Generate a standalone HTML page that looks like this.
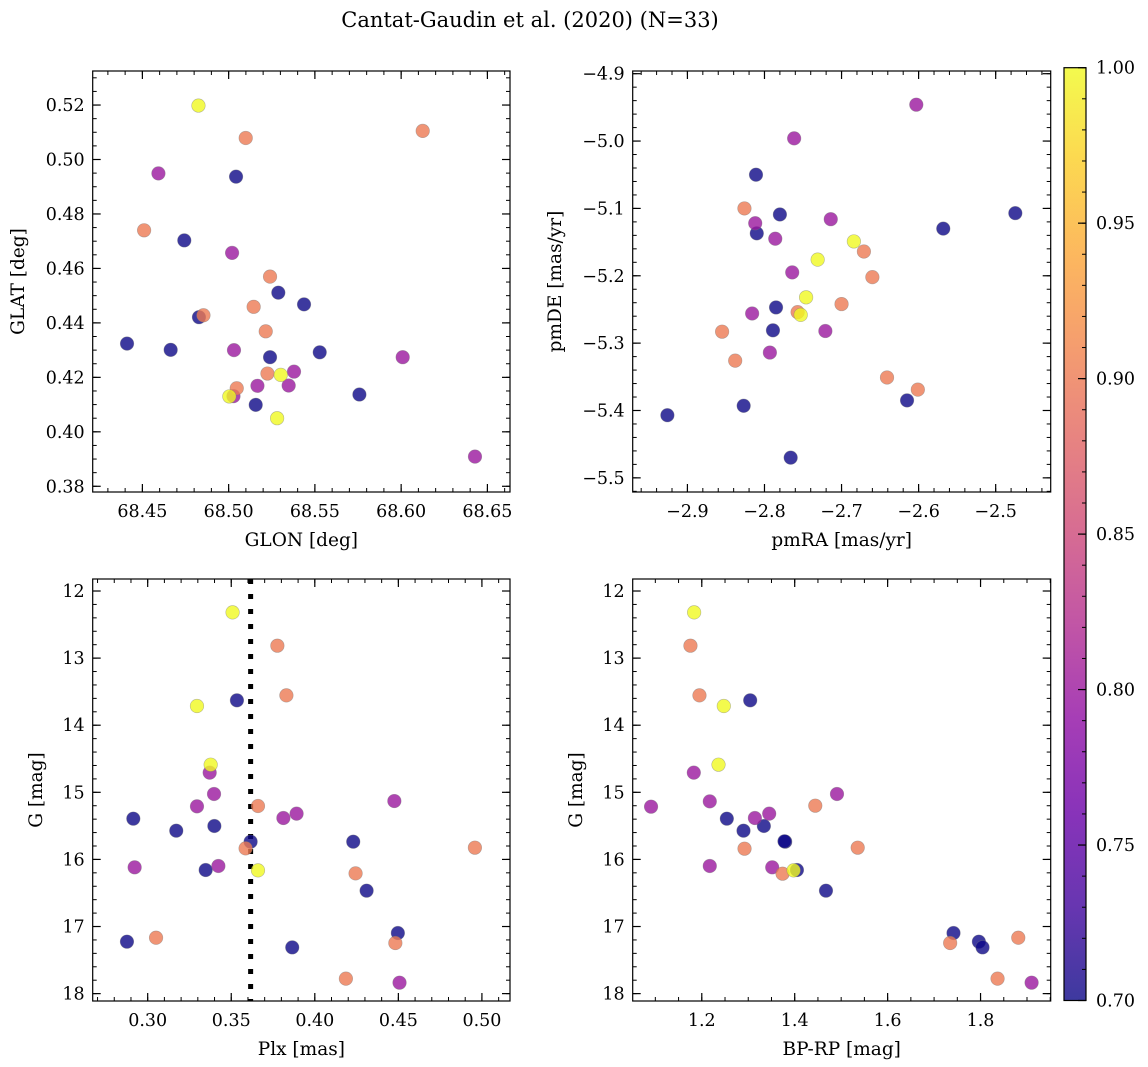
<!DOCTYPE html>
<html><head><meta charset="utf-8"><style>
html,body{margin:0;padding:0;background:#fff;}
svg{display:block;font-family:"DejaVu Serif","Liberation Serif",serif;}
</style></head><body>
<svg id="fig" width="1148" height="1067" viewBox="0 0 1148 1067" xmlns="http://www.w3.org/2000/svg">
<defs>
<linearGradient id="plasma" x1="0" y1="1" x2="0" y2="0">
<stop offset="0" stop-color="#0d0887"/><stop offset="0.1" stop-color="#41049d"/><stop offset="0.2" stop-color="#6a00a8"/><stop offset="0.3" stop-color="#8f0da4"/><stop offset="0.4" stop-color="#b12a90"/><stop offset="0.5" stop-color="#cc4778"/><stop offset="0.6" stop-color="#e16462"/><stop offset="0.7" stop-color="#f2844b"/><stop offset="0.8" stop-color="#fca636"/><stop offset="0.9" stop-color="#fcce25"/><stop offset="1" stop-color="#f0f921"/>
</linearGradient>
</defs>
<text x="530" y="27" font-size="21" text-anchor="middle">Cantat-Gaudin et al. (2020) (N=33)</text>
</svg>
<script>
// ---- data (D=0.70, P=0.80, S=0.90, Y=1.00 membership probability) ----
const glon = [68.4825,68.5099,68.6125,68.4593,68.5043,68.4510,68.4743,68.5020,68.5240,68.5288,68.5437,68.5145,68.4828,68.4854,68.5215,68.4411,68.4664,68.5031,68.5528,68.6009,68.5240,68.5379,68.5225,68.5302,68.5167,68.5348,68.5047,68.5028,68.5004,68.5758,68.5157,68.5281,68.6428];
const glat = [0.5198,0.5079,0.5105,0.4949,0.4937,0.4740,0.4703,0.4657,0.4570,0.4511,0.4468,0.4459,0.4421,0.4428,0.4369,0.4324,0.4301,0.4300,0.4292,0.4274,0.4274,0.4221,0.4214,0.4209,0.4169,0.4170,0.4160,0.4131,0.4130,0.4137,0.4099,0.4050,0.3909];
const probPos = [1.0,0.9,0.9,0.8,0.7,0.9,0.7,0.8,0.9,0.7,0.7,0.9,0.7,0.9,0.9,0.7,0.7,0.8,0.7,0.8,0.7,0.8,0.9,1.0,0.8,0.8,0.9,0.8,1.0,0.7,0.7,1.0,0.8];

const pmra = [-2.603,-2.7615,-2.811,-2.4745,-2.826,-2.780,-2.714,-2.812,-2.810,-2.568,-2.786,-2.684,-2.671,-2.731,-2.764,-2.660,-2.746,-2.700,-2.785,-2.816,-2.757,-2.753,-2.855,-2.721,-2.789,-2.793,-2.838,-2.641,-2.601,-2.615,-2.827,-2.926,-2.766];
const pmde = [-4.946,-4.996,-5.050,-5.107,-5.100,-5.109,-5.116,-5.122,-5.137,-5.130,-5.145,-5.149,-5.164,-5.176,-5.195,-5.202,-5.232,-5.242,-5.247,-5.256,-5.254,-5.258,-5.283,-5.282,-5.281,-5.314,-5.326,-5.351,-5.369,-5.385,-5.393,-5.407,-5.470];
const probPm = [0.8,0.8,0.7,0.7,0.9,0.7,0.8,0.8,0.7,0.7,0.8,1.0,0.9,1.0,0.8,0.9,1.0,0.9,0.7,0.8,0.9,1.0,0.9,0.8,0.7,0.8,0.9,0.9,0.9,0.7,0.7,0.7,0.7];

const plx = [0.3508,0.3776,0.3830,0.3295,0.3534,0.3377,0.3371,0.3397,0.3295,0.3660,0.4476,0.2914,0.3812,0.3891,0.3399,0.3171,0.3616,0.3586,0.4230,0.4958,0.2922,0.3423,0.3347,0.3660,0.4244,0.4310,0.2876,0.3050,0.4497,0.4482,0.3865,0.4186,0.4507];
const gmagA = [12.318,12.815,13.555,13.714,13.629,14.588,14.707,15.025,15.209,15.204,15.130,15.393,15.383,15.318,15.502,15.572,15.736,15.835,15.736,15.825,16.118,16.098,16.158,16.163,16.208,16.466,17.226,17.167,17.097,17.246,17.311,17.777,17.837];
const probPlx = [1.0,0.9,0.9,1.0,0.7,1.0,0.8,0.8,0.8,0.9,0.8,0.7,0.8,0.8,0.7,0.7,0.7,0.9,0.7,0.9,0.8,0.8,0.7,1.0,0.9,0.7,0.7,0.9,0.7,0.9,0.7,0.9,0.8];
const plxLine = [0.3616];

const bprp = [1.1835,1.1756,1.195,1.2474,1.3042,1.236,1.1828,1.0908,1.2172,1.2539,1.3143,1.3451,1.3336,1.2898,1.491,1.4443,1.3796,1.378,1.292,1.5356,1.2172,1.3516,1.3739,1.4048,1.3976,1.4673,1.7418,1.7346,1.7964,1.8043,1.8812,1.8366,1.9099];
const gmagB = [12.318,12.815,13.555,13.714,13.629,14.588,14.707,15.214,15.135,15.393,15.383,15.318,15.502,15.572,15.025,15.199,15.736,15.73,15.840,15.825,16.098,16.118,16.213,16.158,16.163,16.466,17.097,17.246,17.226,17.311,17.167,17.777,17.837];
const probCmd = [1.0,0.9,0.9,1.0,0.7,1.0,0.8,0.8,0.8,0.7,0.8,0.8,0.7,0.7,0.8,0.9,0.7,0.7,0.9,0.9,0.8,0.8,0.9,0.7,1.0,0.7,0.7,0.9,0.7,0.7,0.9,0.9,0.8];

const cbarTicks = [0.70,0.75,0.80,0.85,0.90,0.95,1.00];

// ---- helpers ----
const NS = "http://www.w3.org/2000/svg";
const svg = document.getElementById('fig');
function mk(tag, attrs, parent){ const e=document.createElementNS(NS,tag); for(const k in attrs) e.setAttribute(k,attrs[k]); (parent||svg).appendChild(e); return e; }
const stops=[[0,[13,8,135]],[0.1,[65,4,157]],[0.2,[106,0,168]],[0.3,[143,13,164]],[0.4,[177,42,144]],[0.5,[204,71,120]],[0.6,[225,100,98]],[0.7,[242,132,75]],[0.8,[252,166,54]],[0.9,[252,206,37]],[1,[240,249,33]]];
function plasma(v){ let t=(v-0.7)/0.3; t=Math.max(0,Math.min(1,t));
  for(let i=1;i<stops.length;i++){ if(t<=stops[i][0]){ const a=stops[i-1],b=stops[i]; const f=(t-a[0])/(b[0]-a[0]); const c=a[1].map((x,j)=>Math.round(x+(b[1][j]-x)*f)); return `rgb(${c[0]},${c[1]},${c[2]})`; } }
  return 'rgb(240,249,33)'; }
function fmt(v,d){ const s=Math.abs(v).toFixed(d); return (v<0?'\u2212':'')+s; }
const TF=17.5, LF=18.5;

function panel(cfg){
  const g = mk('g',{});
  
  
  const {x0,x1,y0,y1,xmin,xmax,ymin,ymax,inv}=cfg;
  const sx = v => x0+(v-xmin)/(xmax-xmin)*(x1-x0);
  const sy = v => inv ? y0+(v-ymin)/(ymax-ymin)*(y1-y0) : y1-(v-ymin)/(ymax-ymin)*(y1-y0);
  const eps=1e-9;
  for(let v=Math.ceil(xmin/cfg.xminor-eps)*cfg.xminor; v<=xmax+eps; v+=cfg.xminor){ const x=sx(v);
    mk('line',{x1:x,y1:y1,x2:x,y2:y1-4,stroke:'#000','stroke-width':1},g); mk('line',{x1:x,y1:y0,x2:x,y2:y0+4,stroke:'#000','stroke-width':1},g); }
  for(let v=Math.ceil(ymin/cfg.yminor-eps)*cfg.yminor; v<=ymax+eps; v+=cfg.yminor){ const y=sy(v);
    mk('line',{x1:x0,y1:y,x2:x0+4,y2:y,stroke:'#000','stroke-width':1},g); mk('line',{x1:x1,y1:y,x2:x1-4,y2:y,stroke:'#000','stroke-width':1},g); }
  cfg.xticks.forEach(v=>{ const x=sx(v);
    mk('line',{x1:x,y1:y1,x2:x,y2:y1-8,stroke:'#000','stroke-width':1.2},g); mk('line',{x1:x,y1:y0,x2:x,y2:y0+8,stroke:'#000','stroke-width':1.2},g);
    const t=mk('text',{x:x,y:y1+25,'font-size':TF,'text-anchor':'middle'},g); t.textContent=fmt(v,cfg.xd);
      });
  cfg.yticks.forEach(v=>{ const y=sy(v);
    mk('line',{x1:x0,y1:y,x2:x0+8,y2:y,stroke:'#000','stroke-width':1.2},g); mk('line',{x1:x1,y1:y,x2:x1-8,y2:y,stroke:'#000','stroke-width':1.2},g);
    const t=mk('text',{x:x0-8,y:y+6,'font-size':TF,'text-anchor':'end'},g); t.textContent=fmt(v,cfg.yd);
      });
  if(cfg.vline!==undefined){ const x=sx(cfg.vline);
    const l=mk('line',{x1:x,y1:y0,x2:x,y2:y1,stroke:'#000','stroke-width':5,'stroke-dasharray':'5 10'},g);
      }
  const order = cfg.xs.map((_,i)=>i).sort((a,b)=>cfg.cs[a]-cfg.cs[b]);
  order.forEach(i=>{
    const c=mk('circle',{cx:sx(cfg.xs[i]),cy:sy(cfg.ys[i]),r:6.8,fill:plasma(cfg.cs[i]),'fill-opacity':0.8,stroke:'#777','stroke-opacity':0.5,'stroke-width':0.6},g);
      });
  const fr=mk('rect',{x:x0,y:y0,width:x1-x0,height:y1-y0,fill:'none',stroke:'#000','stroke-width':1.2},g);
   
  const xl=mk('text',{x:(x0+x1)/2,y:y1+54,'font-size':LF,'text-anchor':'middle'},g); xl.textContent=cfg.xlabel;
   
  const yx=cfg.ylx, yc=(y0+y1)/2;
  const yl=mk('text',{x:yx,y:yc,'font-size':LF,'text-anchor':'middle',transform:`rotate(-90 ${yx} ${yc})`},g); yl.textContent=cfg.ylabel;
   
}

panel({name:'position-panel',x0:92.7,x1:510,y0:71,y1:492,xmin:68.4212,xmax:68.6631,ymin:0.3779,ymax:0.5325,
  xticks:[68.45,68.50,68.55,68.60,68.65],xd:2,xminor:0.01,yticks:[0.38,0.40,0.42,0.44,0.46,0.48,0.50,0.52],yd:2,yminor:0.005,
  xs:glon,ys:glat,cs:probPos,xlabel:'GLON [deg]',ylabel:'GLAT [deg]',ylx:24});
panel({name:'proper-motion-panel',x0:632.7,x1:1050.7,y0:71,y1:492,xmin:-2.971,xmax:-2.4286,ymin:-5.521,ymax:-4.896,
  xticks:[-2.9,-2.8,-2.7,-2.6,-2.5],xd:1,xminor:0.02,yticks:[-5.5,-5.4,-5.3,-5.2,-5.1,-5.0,-4.9],yd:1,yminor:0.02,
  xs:pmra,ys:pmde,cs:probPm,xlabel:'pmRA [mas/yr]',ylabel:'pmDE [mas/yr]',ylx:561});
panel({name:'parallax-panel',x0:92.7,x1:510,y0:579,y1:1001,xmin:0.2671,xmax:0.5168,ymin:11.821,ymax:18.110,inv:true,
  xticks:[0.30,0.35,0.40,0.45,0.50],xd:2,xminor:0.01,yticks:[12,13,14,15,16,17,18],yd:0,yminor:0.2,
  xs:plx,ys:gmagA,cs:probPlx,vline:plxLine[0],xlabel:'Plx [mas]',ylabel:'G [mag]',ylx:42});
panel({name:'cmd-panel',x0:632.7,x1:1050.7,y0:579,y1:1001,xmin:1.0513,xmax:1.951,ymin:11.821,ymax:18.110,inv:true,
  xticks:[1.2,1.4,1.6,1.8],xd:1,xminor:0.05,yticks:[12,13,14,15,16,17,18],yd:0,yminor:0.2,
  xs:bprp,ys:gmagB,cs:probCmd,xlabel:'BP-RP [mag]',ylabel:'G [mag]',ylx:582});

// colorbar
const cb = mk('g',{});


const cy0=67.7, cy1=1000.5, cx0=1064, cx1=1086;
const cs = v => cy1-(v-0.7)/0.3*(cy1-cy0);
mk('rect',{x:cx0,y:cy0,width:cx1-cx0,height:cy1-cy0,fill:'url(#plasma)','fill-opacity':0.8,stroke:'#000','stroke-width':1.2},cb);
for(let v=0.70; v<=1.0001; v+=0.01){ mk('line',{x1:cx1,y1:cs(v),x2:cx1-4,y2:cs(v),stroke:'#000','stroke-width':1},cb); }
cbarTicks.forEach(v=>{ const y=cs(v);
  mk('line',{x1:cx1,y1:y,x2:cx1-8,y2:y,stroke:'#000','stroke-width':1.2},cb);
  const t=mk('text',{x:1096,y:y+6,'font-size':TF},cb); t.textContent=v.toFixed(2);
    });
</script>
</body></html>
